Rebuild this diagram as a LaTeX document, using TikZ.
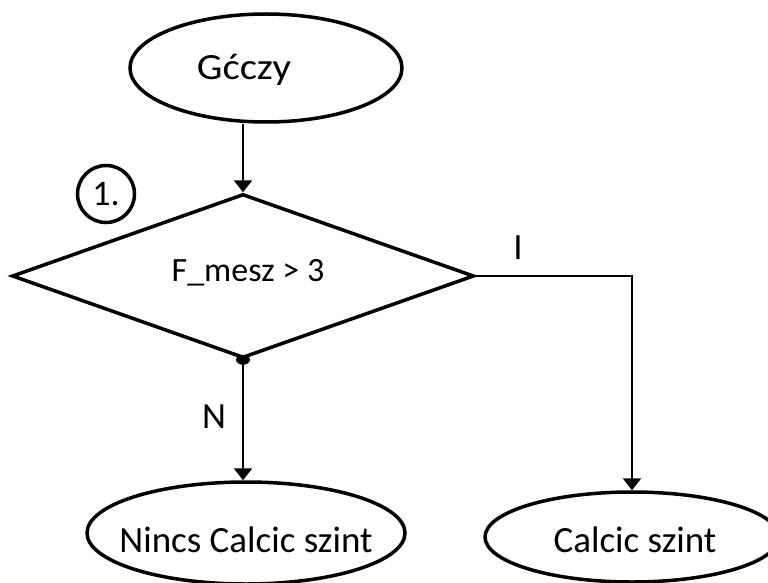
\documentclass[tikz,border=0pt]{standalone}
\usepackage{fontspec}
\setmainfont{Carlito}
\usetikzlibrary{shapes.geometric,arrows.meta}
\begin{document}
\begin{tikzpicture}[x=1pt,y=-1pt,
  term/.style={draw,ellipse,line width=3.5pt,inner sep=0pt},
  decis/.style={draw,diamond,line width=3.5pt,inner sep=0pt},
  conn/.style={line width=2.4pt},
  arr/.style={conn,-{Triangle[width=18pt,length=12pt]}},
  lbl/.style={font=\fontsize{37}{40}\selectfont,inner sep=0pt},
  num/.style={draw,circle,line width=3.5pt,minimum size=57pt,inner sep=0pt,font=\fontsize{36}{40}\selectfont}]
\useasboundingbox (0,0) rectangle (768,583);
\node[term,minimum width=272pt,minimum height=108pt] (top) at (266,68) {};
\node[lbl,xscale=1.1] (topt) at (244,70) {Gćczy};
\node[decis,minimum width=462pt,minimum height=164pt] (dia) at (243,276) {};
\node[lbl,font=\fontsize{34}{38}\selectfont] (cond) at (248,273) {F\_mesz > 3};
\node[num] (one) at (106,194) {1.};
\node[term,minimum width=318pt,minimum height=102pt] (nincs) at (246,533) {};
\node[lbl] (nincst) at (246,540) {Nincs Calcic szint};
\node[term,minimum width=294pt,minimum height=90pt] (calcic) at (632,537) {};
\node[lbl] (calcict) at (635,540) {Calcic szint};
\node[lbl] (nlab) at (214,417) {N};
\node[lbl] (ilab) at (518,248) {I};
\draw[arr] (top.south -| dia.north) -- (dia.north);
\draw[arr] (dia.south) -- (dia.south |- nincs.north);
\draw[arr] (dia.east) -| (calcic.north);
\fill (dia.south) ellipse (7pt and 5pt);
\end{tikzpicture}
\end{document}
